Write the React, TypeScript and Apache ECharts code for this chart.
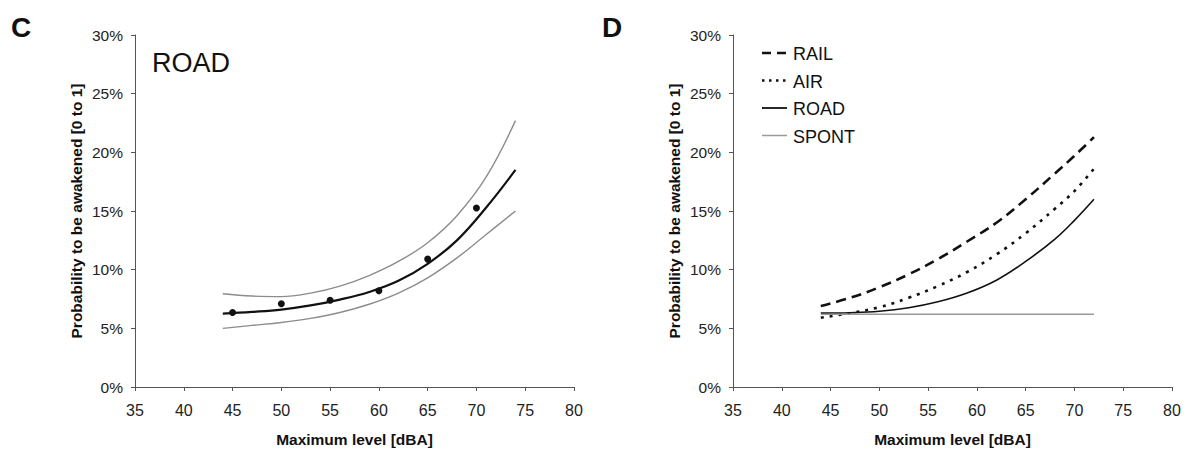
import React, { useEffect, useRef } from "react";
import * as echarts from "echarts";

// Panel C: ROAD fit with confidence band and observed points
const fitX = [44, 47, 50, 53, 56, 59, 62, 65, 68, 71, 74];
const roadFit = [6.25, 6.4, 6.6, 6.95, 7.45, 8.1, 9.05, 10.5, 12.5, 15.3, 18.5];
const roadUpper = [7.95, 7.75, 7.7, 8.0, 8.6, 9.5, 10.7, 12.3, 14.6, 17.9, 22.7];
const roadLower = [5.0, 5.25, 5.5, 5.85, 6.35, 7.05, 8.0, 9.3, 11.0, 13.0, 15.0];
const obsX = [45, 50, 55, 60, 65, 70];
const obsY = [6.35, 7.1, 7.4, 8.2, 10.9, 15.25];

// Panel D: comparison of sources
const cmpX = [44, 47, 50, 53, 56, 59, 62, 65, 68, 70, 72];
const railY = [6.9, 7.6, 8.5, 9.6, 10.9, 12.4, 14.0, 16.0, 18.2, 19.7, 21.3];
const airY = [5.9, 6.3, 6.8, 7.6, 8.6, 9.8, 11.3, 13.1, 15.2, 16.7, 18.6];
const roadY = [6.3, 6.33, 6.45, 6.75, 7.26, 8.01, 9.1, 10.7, 12.6, 14.2, 16.0];
const spontX = [44, 72];
const spontY = [6.2, 6.2];

const legendNames = ["RAIL", "AIR", "ROAD", "SPONT"];
const yTicks = { min: 0, max: 30, interval: 5 };
const xTicks = { min: 35, max: 80, interval: 5 };

const FONT = "Liberation Sans, Arial, sans-serif";

const zip = (xs: number[], ys: number[]) => xs.map((x, i) => [x, ys[i]]);

const legendStyles = [
  { stroke: "#111", lineWidth: 2.6, lineDash: [9, 6] },
  { stroke: "#111", lineWidth: 2.6, lineDash: [2.5, 4.5] },
  { stroke: "#111", lineWidth: 1.8, lineDash: null },
  { stroke: "#999", lineWidth: 1.5, lineDash: null },
];

export default function App() {
  const ref = useRef<HTMLDivElement>(null);
  useEffect(() => {
    if (!ref.current) return;
    const chart = echarts.init(ref.current, null, { renderer: "svg" });
    const xAxisBase = (gridIndex: number) => ({
      type: "value",
      gridIndex,
      min: xTicks.min,
      max: xTicks.max,
      interval: xTicks.interval,
      name: "Maximum level [dBA]",
      nameLocation: "middle",
      nameGap: 44,
      nameTextStyle: { fontFamily: FONT, fontSize: 15.5, fontWeight: "bold", color: "#111" },
      axisLine: { show: true, onZero: false, lineStyle: { color: "#555", width: 1 } },
      axisTick: { show: true, inside: false, length: 4, lineStyle: { color: "#555" } },
      axisLabel: { fontFamily: FONT, fontSize: 16, color: "#222", margin: 15 },
      splitLine: { show: false },
    });
    const yAxisBase = (gridIndex: number) => ({
      type: "value",
      gridIndex,
      min: yTicks.min,
      max: yTicks.max,
      interval: yTicks.interval,
      name: "Probability to be awakened [0 to 1]",
      nameLocation: "middle",
      nameGap: 51,
      nameRotate: 90,
      nameTextStyle: { fontFamily: FONT, fontSize: 15.5, fontWeight: "bold", color: "#111" },
      axisLine: { show: true, lineStyle: { color: "#555", width: 1 } },
      axisTick: { show: true, inside: false, length: 4, lineStyle: { color: "#555" } },
      axisLabel: { fontFamily: FONT, fontSize: 15.5, color: "#222", margin: 12, formatter: "{value}%" },
      splitLine: { show: false },
    });
    const legendGraphics: any[] = [];
    legendNames.forEach((name, i) => {
      const y = 53 + i * 27.5;
      const st = legendStyles[i];
      legendGraphics.push({
        type: "line",
        shape: { x1: 762, y1: y, x2: 787, y2: y },
        style: { stroke: st.stroke, lineWidth: st.lineWidth, lineDash: st.lineDash || undefined },
      });
      legendGraphics.push({
        type: "text",
        x: 793,
        y: y + 1,
        style: { text: name, font: "18px " + FONT, fill: "#111", verticalAlign: "middle", align: "left" },
      });
    });
    chart.setOption({
      animation: false,
      backgroundColor: "#ffffff",
      grid: [
        { left: 135, top: 35, width: 439, height: 356 },
        { left: 733, top: 35, width: 439, height: 356 },
      ],
      xAxis: [xAxisBase(0), xAxisBase(1)],
      yAxis: [yAxisBase(0), yAxisBase(1)],
      graphic: [
        { type: "text", left: 11, top: 13, style: { text: "C", font: "bold 28px " + FONT, fill: "#111" } },
        { type: "text", left: 602, top: 13, style: { text: "D", font: "bold 28px " + FONT, fill: "#111" } },
        { type: "text", left: 152, top: 49, style: { text: "ROAD", font: "27px " + FONT, fill: "#111" } },
        ...legendGraphics,
      ],
      series: [
        {
          name: "Upper",
          type: "line",
          xAxisIndex: 0,
          yAxisIndex: 0,
          data: zip(fitX, roadUpper),
          smooth: 0.4,
          symbol: "none",
          lineStyle: { color: "#8c8c8c", width: 1.4 },
        },
        {
          name: "Lower",
          type: "line",
          xAxisIndex: 0,
          yAxisIndex: 0,
          data: zip(fitX, roadLower),
          smooth: 0.4,
          symbol: "none",
          lineStyle: { color: "#8c8c8c", width: 1.4 },
        },
        {
          name: "Fit",
          type: "line",
          xAxisIndex: 0,
          yAxisIndex: 0,
          data: zip(fitX, roadFit),
          smooth: 0.4,
          symbol: "none",
          lineStyle: { color: "#111", width: 2.2 },
        },
        {
          name: "Observed",
          type: "scatter",
          xAxisIndex: 0,
          yAxisIndex: 0,
          data: zip(obsX, obsY),
          symbol: "circle",
          symbolSize: 7,
          itemStyle: { color: "#111", opacity: 1 },
        },
        {
          name: "RAIL",
          type: "line",
          xAxisIndex: 1,
          yAxisIndex: 1,
          data: zip(cmpX, railY),
          smooth: 0.4,
          symbol: "none",
          lineStyle: { color: "#111", width: 2.6, type: [10, 6] },
        },
        {
          name: "AIR",
          type: "line",
          xAxisIndex: 1,
          yAxisIndex: 1,
          data: zip(cmpX, airY),
          smooth: 0.4,
          symbol: "none",
          lineStyle: { color: "#111", width: 2.6, type: [3, 6] },
        },
        {
          name: "ROAD",
          type: "line",
          xAxisIndex: 1,
          yAxisIndex: 1,
          data: zip(cmpX, roadY),
          smooth: 0.4,
          symbol: "none",
          lineStyle: { color: "#111", width: 1.6 },
        },
        {
          name: "SPONT",
          type: "line",
          xAxisIndex: 1,
          yAxisIndex: 1,
          data: zip(spontX, spontY),
          symbol: "none",
          lineStyle: { color: "#999", width: 1.3 },
        },
      ],
    });
    return () => chart.dispose();
  }, []);
  return (
    <div
      ref={ref}
      style={{ position: "fixed", left: 0, top: 0, width: 1190, height: 452, background: "#fff" }}
    />
  );
}
